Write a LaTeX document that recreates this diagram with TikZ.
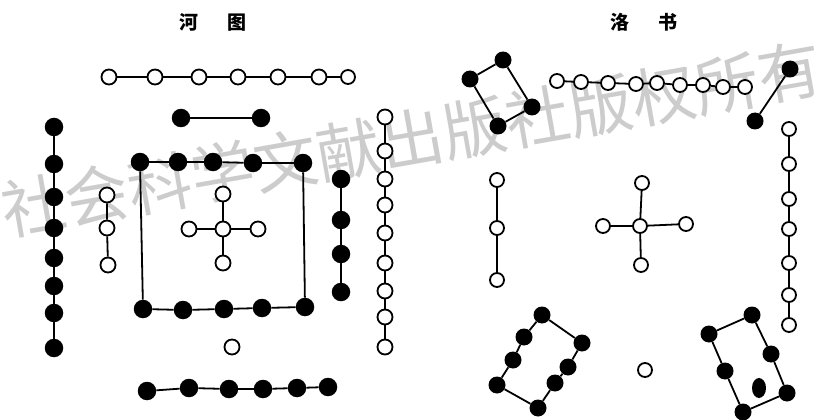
\documentclass[tikz,border=0pt]{standalone}
\usepackage{fontspec}
\newfontfamily\cjk{Noto Sans CJK SC}
\usetikzlibrary{shapes.geometric}
\tikzset{
  wd/.style={circle, draw=black, fill=white, line width=1.8pt, inner sep=0pt, minimum size=15pt},
  wds/.style={wd, minimum size=14pt},
  bd/.style={circle, fill=black, inner sep=0pt, minimum size=18.5pt},
  bds/.style={circle, fill=black, inner sep=0pt, minimum size=17pt},
  ln/.style={line width=1.8pt, black},
  ttl/.style={font=\cjk\bfseries\fontsize{19pt}{19pt}\selectfont},
}
\begin{document}
\begin{tikzpicture}[x=1pt,y=-1pt]
\useasboundingbox (0,0) rectangle (823,420);
\fill[white] (0,0) rectangle (823,420);
% watermark
\node[rotate=10, text=black!20, inner sep=0pt, font=\cjk\fontsize{64pt}{64pt}\selectfont] (wm) at (412,139) {社会科学文献出版社版权所有};
% titles
\node[ttl] (hetu) at (213,22) {河\hspace{30pt}图};
\node[ttl] (luoshu) at (644,22) {洛\hspace{30pt}书};

% ================= HETU =================
% top white row (7)
\foreach \x [count=\i] in {109,155,199,238,278,319}
  \node[wd] (ht\i) at (\x,77) {};
\node[wds] (ht7) at (348,77) {};
\foreach \i in {1,...,6}{\pgfmathtruncatemacro\j{\i+1}\draw[ln] (ht\i) -- (ht\j);}
% black pair
\node[bd] (hb1) at (181,118) {};
\node[bd] (hb2) at (261,118) {};
\draw[ln] (hb1) -- (hb2);
% left black column (8)
\foreach \y [count=\i] in {127,164,197,228,258,286,313,348}
  \node[bd] (hl\i) at (54,\y) {};
\foreach \i in {1,...,7}{\pgfmathtruncatemacro\j{\i+1}\draw[ln] (hl\i) -- (hl\j);}
% inner left white (3)
\node[wd] (hw1) at (107,195) {};
\node[wd] (hw2) at (107,228) {};
\node[wd] (hw3) at (108,265) {};
\draw[ln] (hw1) -- (hw2) -- (hw3);
% square top row (5)
\foreach \x/\y [count=\i] in {140/162,178/162,213/162,253/163,303/163}
  \node[bd] (hs\i) at (\x,\y) {};
\foreach \i in {1,...,4}{\pgfmathtruncatemacro\j{\i+1}\draw[ln] (hs\i) -- (hs\j);}
% square bottom row (5)
\foreach \x/\y [count=\i] in {143/309,183/310,224/309,262/308,305/307}
  \node[bd] (hq\i) at (\x,\y) {};
\foreach \i in {1,...,4}{\pgfmathtruncatemacro\j{\i+1}\draw[ln] (hq\i) -- (hq\j);}
\draw[ln] (hs1) -- (hq1);
\draw[ln] (hs5) -- (hq5);
% centre cross
\node[wd] (hc) at (223,229) {};
\node[wd] (hcu) at (223,194) {};
\node[wd] (hcd) at (223,263) {};
\node[wd] (hcl) at (189,229) {};
\node[wd] (hcr) at (258,229) {};
\draw[ln] (hc) -- (hcu);
\draw[ln] (hc) -- (hcd);
\draw[ln] (hc) -- (hcl);
\draw[ln] (hc) -- (hcr);
% lone white
\node[wd] (hlone) at (232,347) {};
% bottom black row (6)
\foreach \x/\y [count=\i] in {147/391,189/388,229/389,263/389,297/388,328/387}
  \node[bd] (hbb\i) at (\x,\y) {};
\foreach \i in {1,...,5}{\pgfmathtruncatemacro\j{\i+1}\draw[ln] (hbb\i) -- (hbb\j);}
% right inner black (4)
\foreach \y [count=\i] in {179,220,254,292}
  \node[bd] (hr\i) at (341,\y) {};
\foreach \i in {1,...,3}{\pgfmathtruncatemacro\j{\i+1}\draw[ln] (hr\i) -- (hr\j);}
% right outer white (9)
\foreach \y [count=\i] in {117,151,179,205,233,263,291,317,347}
  \node[wd] (hrw\i) at (385,\y) {};
\foreach \i in {1,...,8}{\pgfmathtruncatemacro\j{\i+1}\draw[ln] (hrw\i) -- (hrw\j);}

% ================= LUOSHU =================
% top-left 4
\node[bds] (la1) at (470,79) {};
\node[bds] (la2) at (503,60) {};
\node[bds] (la3) at (532,107) {};
\node[bds] (la4) at (498,126) {};
\draw[ln] (la1) -- (la2) -- (la3) -- (la4) -- (la1);
% top white row (9)
\foreach \x/\y [count=\i] in {557/81,581/82,608/83,636/84,657/83,680/85,703/85,723/87,745/87}
  \node[wds] (lt\i) at (\x,\y) {};
\foreach \i in {1,...,8}{\pgfmathtruncatemacro\j{\i+1}\draw[ln] (lt\i) -- (lt\j);}
% top-right pair
\node[bds] (lp1) at (790,69) {};
\node[bds] (lp2) at (755,121) {};
\draw[ln] (lp1) -- (lp2);
% right white column (7)
\foreach \y [count=\i] in {129,164,199,229,263,295,325}
  \node[wds] (lr\i) at (789,\y) {};
\foreach \i in {1,...,6}{\pgfmathtruncatemacro\j{\i+1}\draw[ln] (lr\i) -- (lr\j);}
% left white column (3)
\node[wds] (ll1) at (497,180) {};
\node[wds] (ll2) at (497,228) {};
\node[wds] (ll3) at (497,280) {};
\draw[ln] (ll1) -- (ll2) -- (ll3);
% centre cross
\node[wds] (lc) at (640,226) {};
\node[wds] (lcu) at (642,183) {};
\node[wds] (lcd) at (641,265) {};
\node[wds] (lcl) at (603,226) {};
\node[wds] (lcr) at (686,224) {};
\draw[ln] (lc) -- (lcu);
\draw[ln] (lc) -- (lcd);
\draw[ln] (lc) -- (lcl);
\draw[ln] (lc) -- (lcr);
% lone white
\node[wds] (llone) at (645,370) {};
% bottom-left 8
\node[bds] (lb1) at (542,315) {};
\node[bds] (lb2) at (524,337) {};
\node[bds] (lb3) at (513,360) {};
\node[bds] (lb4) at (497,385) {};
\node[bds] (lb5) at (538,408) {};
\node[bds] (lb6) at (555,383) {};
\node[bds] (lb7) at (568,367) {};
\node[bds] (lb8) at (582,343) {};
\draw[ln] (lb1) -- (lb2) -- (lb3) -- (lb4) -- (lb5) -- (lb6) -- (lb7) -- (lb8) -- (lb1);
% bottom-right
\node[bds] (lc1) at (709,334) {};
\node[bds] (lc2) at (752,315) {};
\node[bds] (lc3) at (771,354) {};
\node[bds] (lc4) at (787,393) {};
\node[bds] (lc5) at (743,412) {};
\node[bds] (lc6) at (725,371) {};
\node[ellipse, fill=black, inner sep=0pt, minimum width=14pt, minimum height=20pt] (lc7) at (759,388) {};
\draw[ln] (lc1) -- (lc2) -- (lc3) -- (lc4) -- (lc5) -- (lc6) -- (lc1);
\end{tikzpicture}
\end{document}
